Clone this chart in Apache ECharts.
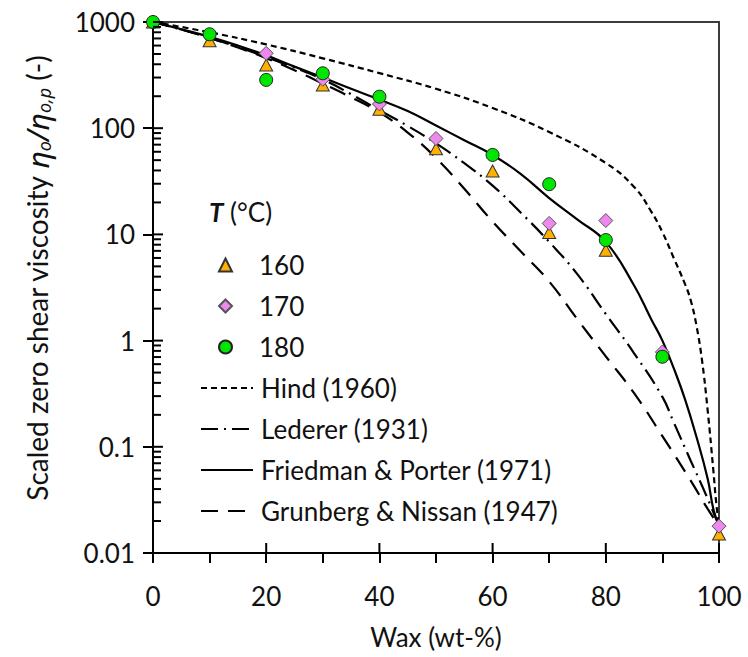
<!DOCTYPE html>
<html><head><meta charset="utf-8">
<script src="https://cdn.jsdelivr.net/npm/echarts@6/dist/echarts.min.js"></script>
<style>html,body{margin:0;padding:0;background:#fff}#c{width:748px;height:657px}</style>
</head><body><div id="c"></div>
<script>
// ---- data ----
const xTicks = [0, 20, 40, 60, 80, 100];
const yTicks = [0.01, 0.1, 1, 10, 100, 1000];

const wax160 = [0, 10, 20, 30, 40, 50, 60, 70, 80, 100];
const eta160 = [1000, 667, 394, 255, 151, 64, 39.5, 10.4, 7.1, 0.0151];
const wax170 = [20, 30, 40, 50, 70, 80, 90, 100];
const eta170 = [507, 289, 169, 80, 12.7, 13.5, 0.78, 0.0179];
const wax180 = [0, 10, 20, 30, 40, 60, 70, 80, 90];
const eta180 = [1000, 766, 285, 329, 198, 56, 29.7, 8.85, 0.705];

const hindX = [0, 10, 20, 30, 40, 50, 60, 70, 80, 85, 88, 90, 92, 94, 95, 96, 97, 98, 99, 99.5, 100];
const hindY = [1000, 800, 615, 455, 330, 235, 155, 92, 47, 28, 16.5, 10.5, 6, 3.4, 2.4, 1.4, 0.65, 0.22, 0.06, 0.03, 0.018];
const lederX = [0, 5, 10, 15, 20, 25, 30, 35, 40, 45, 50, 55, 60, 65, 70, 75, 80, 85, 90, 92, 95, 97, 98.5, 100];
const lederY = [1000, 850, 708, 582, 468, 372, 288, 209, 148, 105, 72, 46.8, 28.8, 16, 8.5, 4.2, 1.78, 0.76, 0.295, 0.17, 0.074, 0.043, 0.028, 0.018];
const fpX = [0, 5, 10, 15, 20, 25, 30, 35, 40, 45, 50, 55, 60, 65, 70, 75, 80, 85, 88, 90, 92, 94, 96, 98, 99, 100];
const fpY = [1000, 855, 725, 600, 485, 380, 300, 235, 186, 145, 106, 77, 56, 37, 22, 13.8, 8.5, 3.3, 1.6, 1.0, 0.55, 0.28, 0.125, 0.05, 0.026, 0.018];
const grunX = [0, 5, 10, 15, 20, 25, 30, 35, 40, 45, 50, 55, 60, 65, 70, 75, 80, 85, 90, 95, 98, 100];
const grunY = [1000, 851, 708, 575, 457, 351, 263, 195, 141, 91, 52.5, 26.9, 13.2, 6.9, 3.6, 1.58, 0.71, 0.32, 0.126, 0.048, 0.026, 0.018];

const pointNames = ['160', '170', '180'];
const curveNames = ['Hind (1960)', 'Lederer (1931)', 'Friedman & Porter (1971)', 'Grunberg & Nissan (1947)'];

// ---- build ----
const zip = (a, b) => a.map((v, i) => [v, b[i]]);
const FONT = 'Lato';
const TXT = '#111';

// inner tick marks: kind 0 = x major, 1 = y major, 2 = y minor
const innerTicks = [];
xTicks.forEach(x => innerTicks.push([x, 0.01, 0]));
yTicks.forEach(y => innerTicks.push([0, y, 1]));
for (let k = -2; k <= 2; k++) for (let m = 2; m <= 9; m++) innerTicks.push([0, +(m * Math.pow(10, k)).toPrecision(3), 2]);

const lineSeries = (name, xs, ys, dash) => ({
  name, type: 'line', data: zip(xs, ys), symbol: 'none', showSymbol: false,
  smooth: 0.45, z: 2,
  lineStyle: { color: '#000', width: 2.2, type: dash },
  itemStyle: { color: 'rgba(0,0,0,0)' }
});

const legendText = pad => ({ fontSize: 26, fontFamily: FONT, color: TXT, lineHeight: 30, padding: [0, 0, 0, pad] });

const chart = echarts.init(document.getElementById('c'), null, { renderer: 'svg' });
chart.setOption({
  animation: false,
  backgroundColor: '#fff',
  grid: { left: 153, right: 29, top: 22, bottom: 104, show: true, borderColor: '#3c3c3c', borderWidth: 2, outerBoundsMode: 'none', containLabel: false },
  title: {
    text: '{b|T} (°C)', left: 204, top: 194,
    textStyle: { fontSize: 26, fontFamily: FONT, color: TXT, fontWeight: 'normal',
      rich: { b: { fontSize: 26, fontFamily: FONT, fontWeight: 'bold', fontStyle: 'italic', color: TXT } } }
  },
  legend: [
    { orient: 'vertical', left: 213, top: 245, itemWidth: 13, itemHeight: 13, itemGap: 11,
      selectedMode: false, data: pointNames, textStyle: legendText(22) },
    { orient: 'vertical', left: 195, top: 368, itemWidth: 52, itemHeight: 13, itemGap: 11,
      selectedMode: false,
      data: curveNames.map(n => ({ name: n, itemStyle: { opacity: 0, color: 'rgba(0,0,0,0)', borderWidth: 0 } })),
      textStyle: legendText(3) }
  ],
  xAxis: {
    type: 'value', min: 0, max: 100, interval: 20,
    name: 'Wax (wt-%)', nameLocation: 'middle', nameGap: 71, nameMoveOverlap: false,
    nameTextStyle: { fontSize: 26, fontFamily: FONT, color: TXT },
    axisLine: { show: true, onZero: false, lineStyle: { color: '#000', width: 2 } },
    axisTick: { show: true, inside: false, length: 10, lineStyle: { color: '#000', width: 2 } },
    minorTick: { show: true, splitNumber: 2, length: 10, lineStyle: { color: '#000', width: 2 } },
    axisLabel: { margin: 30, fontSize: 26, fontFamily: FONT, color: TXT },
    splitLine: { show: false }, minorSplitLine: { show: false }
  },
  yAxis: {
    type: 'log', logBase: 10, min: 0.01, max: 1000,
    name: 'Scaled zero shear viscosity {e|η}{s|o}{e|/}{e|η}{s|o,p} (-)',
    nameLocation: 'middle', nameRotate: 90, nameGap: 100, nameMoveOverlap: false,
    nameTextStyle: { fontSize: 28, fontFamily: FONT, color: TXT, padding: [0, 0, 0, 18],
      rich: {
        e: { fontSize: 30, fontFamily: 'Noto Sans', fontStyle: 'italic', color: TXT },
        s: { fontSize: 18, fontFamily: 'Noto Sans', fontStyle: 'italic', color: TXT, padding: [14, 0, 0, 0] }
      } },
    axisLine: { show: true, onZero: false, lineStyle: { color: '#000', width: 2 } },
    axisTick: { show: true, inside: false, length: 10, lineStyle: { color: '#000', width: 2 } },
    axisLabel: { margin: 18, fontSize: 26, fontFamily: FONT, color: TXT,
      formatter: v => (v >= 1 ? String(Math.round(v)) : String(+v.toPrecision(2))) },
    splitLine: { show: false }
  },
  series: [
    lineSeries(curveNames[0], hindX, hindY, [6, 4]),
    lineSeries(curveNames[1], lederX, lederY, [17, 6, 2, 6]),
    lineSeries(curveNames[2], fpX, fpY, 'solid'),
    lineSeries(curveNames[3], grunX, grunY, [17, 10]),
    { name: '160', type: 'scatter', data: zip(wax160, eta160), symbol: 'triangle', symbolSize: [13, 12], z: 3,
      itemStyle: { color: '#FFB000', borderColor: '#333', borderWidth: 1, opacity: 1 } },
    { name: '170', type: 'scatter', data: zip(wax170, eta170), symbol: 'diamond', symbolSize: [14, 14], z: 4,
      itemStyle: { color: '#EE88EE', borderColor: '#555', borderWidth: 1, opacity: 1 } },
    { name: '180', type: 'scatter', data: zip(wax180, eta180), symbol: 'circle', symbolSize: 13, z: 5,
      itemStyle: { color: '#00E600', borderColor: '#222', borderWidth: 1, opacity: 1 } },
    { name: 'ticks', type: 'custom', data: innerTicks, clip: false, silent: true, z: 6,
      renderItem: (params, api) => {
        const p = api.coord([api.value(0), api.value(1)]);
        const kind = api.value(2);
        const dx = kind === 0 ? 0 : (kind === 1 ? 10 : 8);
        const dy = kind === 0 ? -10 : 0;
        return { type: 'line', shape: { x1: p[0], y1: p[1], x2: p[0] + dx, y2: p[1] + dy },
                 style: { stroke: '#000', lineWidth: 2 } };
      } }
  ]
});
</script></body></html>
